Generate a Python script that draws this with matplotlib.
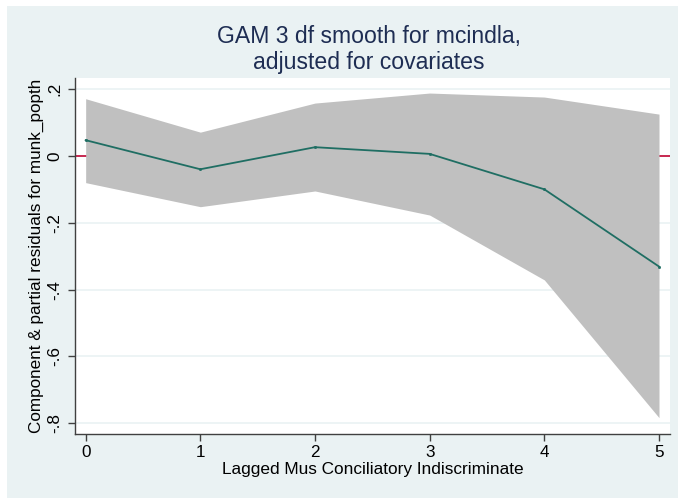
import numpy as np
import matplotlib.pyplot as plt
from matplotlib.patches import Rectangle

plt.rcParams["font.family"] = ["Liberation Sans", "DejaVu Sans"]

# values
lag = [0, 1, 2, 3, 4, 5]
fit = [0.047, -0.040, 0.026, 0.006, -0.100, -0.331]
upper = [0.171, 0.071, 0.158, 0.188, 0.176, 0.125]
lower = [-0.080, -0.152, -0.105, -0.177, -0.371, -0.783]
yticks = [0.2, 0, -0.2, -0.4, -0.6, -0.8]
ytick_labels = [".2", "0", "-.2", "-.4", "-.6", "-.8"]

bg = "#EAF2F3"
axcol = "#404040"

fig = plt.figure(figsize=(6.78, 4.98), dpi=100, facecolor="white")
# graph region (the image has a thin white strip at top and left)
fig.patches.append(Rectangle((7 / 678, 0), 1, 1 - 6 / 498, transform=fig.transFigure,
                             facecolor=bg, edgecolor="none", zorder=-10))

ax = fig.add_axes([75 / 678, 64 / 498, 595 / 678, 356 / 498])
ax.set_facecolor("white")

for yt in yticks:
    ax.axhline(yt, color=bg, lw=1.2, zorder=0)
ax.axhline(0, color="#C10534", lw=1.2, zorder=1)

ax.fill_between(lag, lower, upper, color="#C0C0C0", lw=0, zorder=2)
ax.plot(lag, fit, color="#1F6E63", lw=1.3, marker="s", ms=1.0, zorder=3)

ax.set_xlim(-0.093, 5.096)
ax.set_ylim(-0.832, 0.233)
ax.set_xticks(lag)
ax.set_yticks(yticks)
ax.set_yticklabels(ytick_labels, rotation=90, va="center")

for s in ["top", "right"]:
    ax.spines[s].set_visible(False)
for s in ["left", "bottom"]:
    ax.spines[s].set_color(axcol)
    ax.spines[s].set_linewidth(1.0)
ax.tick_params(colors="black", labelsize=12.3, length=5, width=1.0, direction="out")
ax.tick_params(axis="x", color=axcol, pad=3)
ax.tick_params(axis="y", color=axcol, pad=4)

ax.set_xlabel("Lagged Mus Conciliatory Indiscriminate", fontsize=12.4, labelpad=1)
ax.set_ylabel("Component & partial residuals for munk_popth", fontsize=12.3, labelpad=2.5)

fig.text(369 / 678, 1 - 49.5 / 498, "GAM 3 df smooth for mcindla,\nadjusted for covariates",
         ha="center", va="center", fontsize=16.6, color="#1E2D53", linespacing=1.2)

fig.savefig("out.png", dpi=100, facecolor=fig.get_facecolor())
